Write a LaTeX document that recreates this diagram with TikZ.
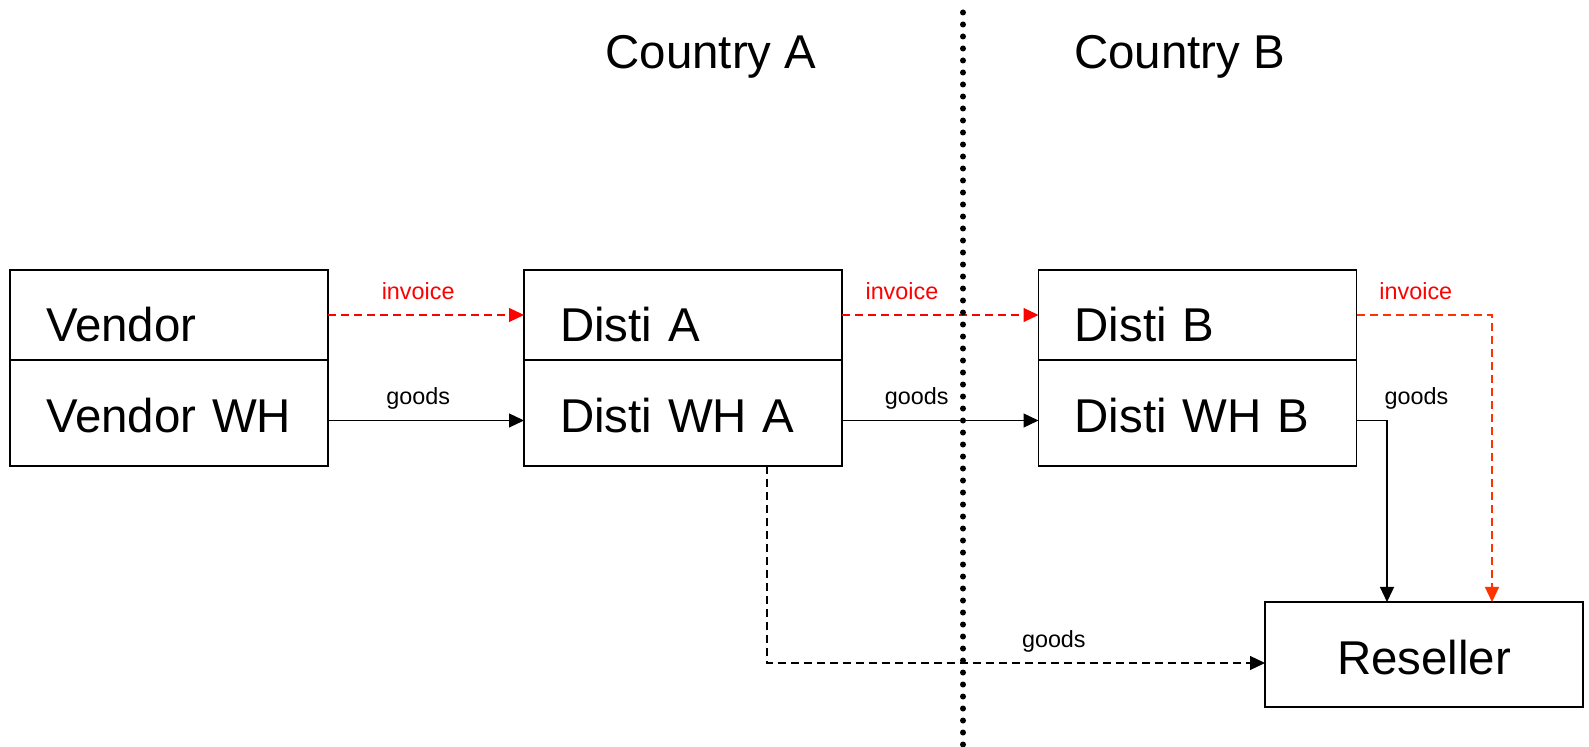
\documentclass[tikz,border=0pt]{standalone}
\usepackage{fontspec}
\setmainfont{Liberation Sans}
\usepackage{tikz}
\usetikzlibrary{arrows.meta,positioning}

\definecolor{invred}{HTML}{FF0000}
\definecolor{invorange}{HTML}{FF3300}

\tikzset{
  party/.style={draw, line width=0.9pt, outer sep=0pt,
    minimum width=6.36cm, minimum height=1.8cm,
    inner xsep=0.72cm, text width=4.92cm, align=left,
    font=\fontsize{27}{32}\selectfont, text height=1.08cm, text depth=0cm},
  store/.style={party, minimum height=2.12cm, text height=0.8cm},
  lbl/.style={font=\fontsize{13.3}{16}\selectfont, inner sep=0pt, text depth=0pt},
  invoiceline/.style={->, invred, line width=0.7pt, dash pattern=on 0.16cm off 0.1cm},
  goodsline/.style={->, black, line width=0.7pt},
}

\begin{document}
\begin{tikzpicture}[>={Triangle[length=0.3cm,width=0.28cm]}]
    \useasboundingbox (0,0) rectangle (31.78,14.92);

    % Countries
    \node[font=\fontsize{27}{32}\selectfont, anchor=base] (countrya) at (14.22,13.54) {Country A};
    \node[font=\fontsize{27}{32}\selectfont, anchor=base] (countryb) at (23.59,13.54) {Country B};

    % Vendor
    \node[party] (vendor) at (3.38,8.62) {Vendor};
    \node[store, below=0pt of vendor] (vendorwh) {Vendor~WH};

    % Disti A
    \node[party] (distia) at (13.66,8.62) {Disti~A};
    \node[store, below=0pt of distia] (distiwha) {Disti~WH~A};

    % Disti B
    \node[party] (distib) at (23.95,8.62) {Disti~B};
    \node[store, below=0pt of distib] (distiwhb) {Disti~WH~B};

    % Reseller
    \node[store, align=center, minimum height=2.1cm] (reseller) at (28.48,1.83) {Reseller};

    % Vendor -> Disti A
    \draw[invoiceline] (vendor) -- node[lbl, pos=0.46, above=0.3cm] {invoice} (distia);
    \draw[goodsline] ([yshift=-0.15cm]vendorwh.east) -- node[lbl, pos=0.46, above=0.3cm] {goods} ([yshift=-0.15cm]distiwha.west);

    % Disti A -> Disti B
    \draw[invoiceline] (distia) -- node[lbl, pos=0.305, above=0.3cm] {invoice} (distib);
    \draw[goodsline] ([yshift=-0.15cm]distiwha.east) -- node[lbl, pos=0.38, above=0.3cm] {goods} ([yshift=-0.15cm]distiwhb.west);

    % Disti B -> Reseller
    \draw[invoiceline, invorange] (distib.east) -| node[lbl, pos=0.219, above=0.3cm, invred] {invoice} ([xshift=1.36cm]reseller.north);
    \draw[goodsline] ([yshift=-0.15cm]distiwhb.east) -| node[lbl, pos=0.5, anchor=south west, yshift=0.3cm, xshift=-0.06cm] {goods} ([xshift=-0.74cm]reseller.north);

    % Disti WH A ships straight to the reseller
    \draw[goodsline, dash pattern=on 0.16cm off 0.1cm] ([xshift=1.68cm]distiwha.south) |- node[lbl, pos=0.788, above=0.3cm] {goods} ([yshift=-0.17cm]reseller.west);

    % Border
    \coordinate (bordertop) at (19.26,14.67);
    \coordinate (borderbot) at (19.26,0);
    \draw[line width=1.2mm, line cap=round, dash pattern=on 0pt off 0.24cm] (bordertop) -- (borderbot);
\end{tikzpicture}
\end{document}
